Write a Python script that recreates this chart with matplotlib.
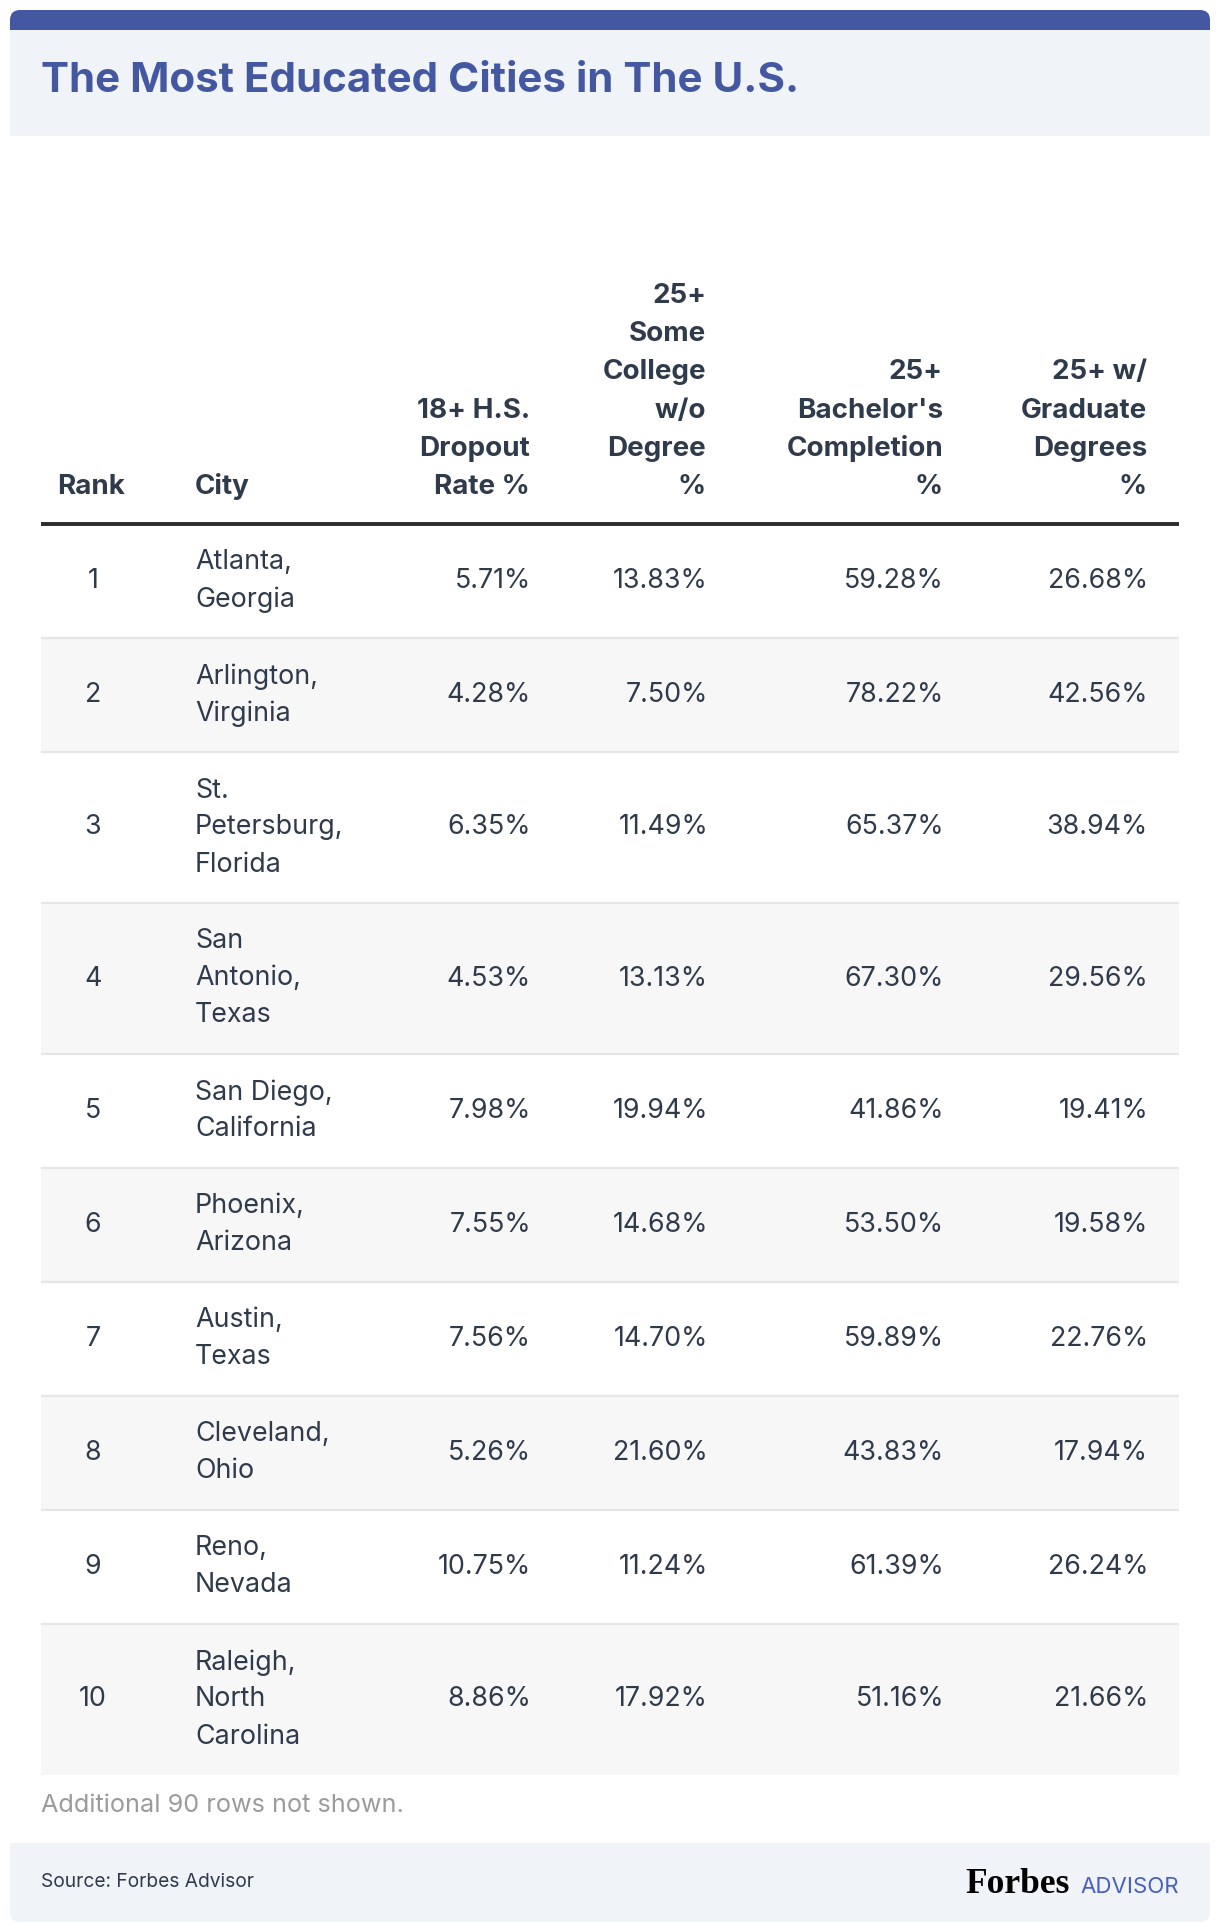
import matplotlib
matplotlib.use("Agg")
import matplotlib.pyplot as plt
from matplotlib.patches import FancyBboxPatch, Rectangle

# ---------------- data ----------------
title = "The Most Educated Cities in The U.S."
headers = [
    ["Rank"],
    ["City"],
    ["18+ H.S.", "Dropout", "Rate %"],
    ["25+", "Some", "College", "w/o", "Degree", "%"],
    ["25+", "Bachelor's", "Completion", "%"],
    ["25+ w/", "Graduate", "Degrees", "%"],
]
ranks = [1, 2, 3, 4, 5, 6, 7, 8, 9, 10]
cities = [
    ["Atlanta,", "Georgia"],
    ["Arlington,", "Virginia"],
    ["St.", "Petersburg,", "Florida"],
    ["San", "Antonio,", "Texas"],
    ["San Diego,", "California"],
    ["Phoenix,", "Arizona"],
    ["Austin,", "Texas"],
    ["Cleveland,", "Ohio"],
    ["Reno,", "Nevada"],
    ["Raleigh,", "North", "Carolina"],
]
dropout = [5.71, 4.28, 6.35, 4.53, 7.98, 7.55, 7.56, 5.26, 10.75, 8.86]
some_college = [13.83, 7.50, 11.49, 13.13, 19.94, 14.68, 14.70, 21.60, 11.24, 17.92]
bachelors = [59.28, 78.22, 65.37, 67.30, 41.86, 53.50, 59.89, 43.83, 61.39, 51.16]
graduate = [26.68, 42.56, 38.94, 29.56, 19.41, 19.58, 22.76, 17.94, 26.24, 21.66]
note = "Additional 90 rows not shown."
source = "Source: Forbes Advisor"

# ---------------- style ----------------
W, H = 1220, 1932
BLUE = "#4458a2"
LIGHT = "#f0f3f8"
TEXT = "#2f3a4b"
ROWGRAY = "#f7f7f7"
SEP = "#e6e6e6"
FONT = "Inter"

fig = plt.figure(figsize=(W / 100, H / 100), dpi=100)
ax = fig.add_axes([0, 0, 1, 1])
ax.set_xlim(0, W)
ax.set_ylim(H, 0)
ax.axis("off")

# header band
ax.add_patch(FancyBboxPatch((10, 10), 1200, 60, boxstyle="round,pad=0,rounding_size=10",
                            fc=BLUE, ec="none"))
ax.add_patch(Rectangle((10, 30), 1200, 106, fc=LIGHT, ec="none"))
ax.text(41, 81, title, fontsize=30.3, fontweight="bold", color=BLUE, family=FONT,
        ha="left", va="center")

# table geometry
LEFT, RIGHT = 41, 1179
col_x = [93, 195, 531, 708, 944, 1148]
col_ha = ["center", "left", "right", "right", "right", "right"]
head_x = [57, 195, 530, 706, 943, 1147]
head_ha = ["left", "left", "right", "right", "right", "right"]
FS = 19.3
HFS = 20
LINE = 37
HEAD_LINE = 38.2
HEAD_BOTTOM = 487

for j, lines in enumerate(headers):
    n = len(lines)
    for k, ln in enumerate(lines):
        y = HEAD_BOTTOM - (n - 1 - k) * HEAD_LINE
        ax.text(head_x[j], y, ln, fontsize=HFS, fontweight="bold", color=TEXT,
                family=FONT, ha=head_ha[j], va="center")

RULE_Y = 524
y0 = RULE_Y
for i in range(len(ranks)):
    n = len(cities[i])
    h = 40 + LINE * n
    if i % 2 == 1:
        ax.add_patch(Rectangle((LEFT, y0), RIGHT - LEFT, h, fc=ROWGRAY, ec="none", zorder=0))
    if i < len(ranks) - 1:
        ax.plot([LEFT, RIGHT], [y0 + h, y0 + h], color=SEP, lw=1.6, zorder=1,
                solid_capstyle="butt")
    yc = y0 + h / 2
    vals = [str(ranks[i]), None, f"{dropout[i]:.2f}%", f"{some_college[i]:.2f}%",
            f"{bachelors[i]:.2f}%", f"{graduate[i]:.2f}%"]
    for j, v in enumerate(vals):
        if j == 1:
            for k, ln in enumerate(cities[i]):
                yy = yc + (k - (n - 1) / 2) * LINE
                ax.text(col_x[j], yy, ln, fontsize=FS, color=TEXT, family=FONT,
                        ha="left", va="center")
        else:
            ax.text(col_x[j], yc, v, fontsize=FS, color=TEXT, family=FONT,
                    ha=col_ha[j], va="center")
    y0 += h

ax.plot([LEFT, RIGHT], [RULE_Y, RULE_Y], color="#2b2b2b", lw=2.8, zorder=3,
        solid_capstyle="butt")

# note
ax.text(41, 1805, note, fontsize=18.2, color="#9b9b9b", family=FONT, ha="left", va="center")

# footer band
ax.add_patch(FancyBboxPatch((10, 1843), 1200, 79, boxstyle="round,pad=0,rounding_size=10",
                            fc=LIGHT, ec="none"))
ax.add_patch(Rectangle((10, 1843), 1200, 30, fc=LIGHT, ec="none"))
ax.text(41, 1882, source, fontsize=13.8, color=TEXT, family=FONT, ha="left", va="center")
ax.text(1070, 1893, "Forbes", fontsize=25.5, fontweight="bold", color="black",
        family="Liberation Serif", ha="right", va="baseline")
ax.text(1179, 1893, "ADVISOR", fontsize=16, color="#4a5fc1", family=FONT,
        ha="right", va="baseline")

fig.savefig("out.png", dpi=100)
